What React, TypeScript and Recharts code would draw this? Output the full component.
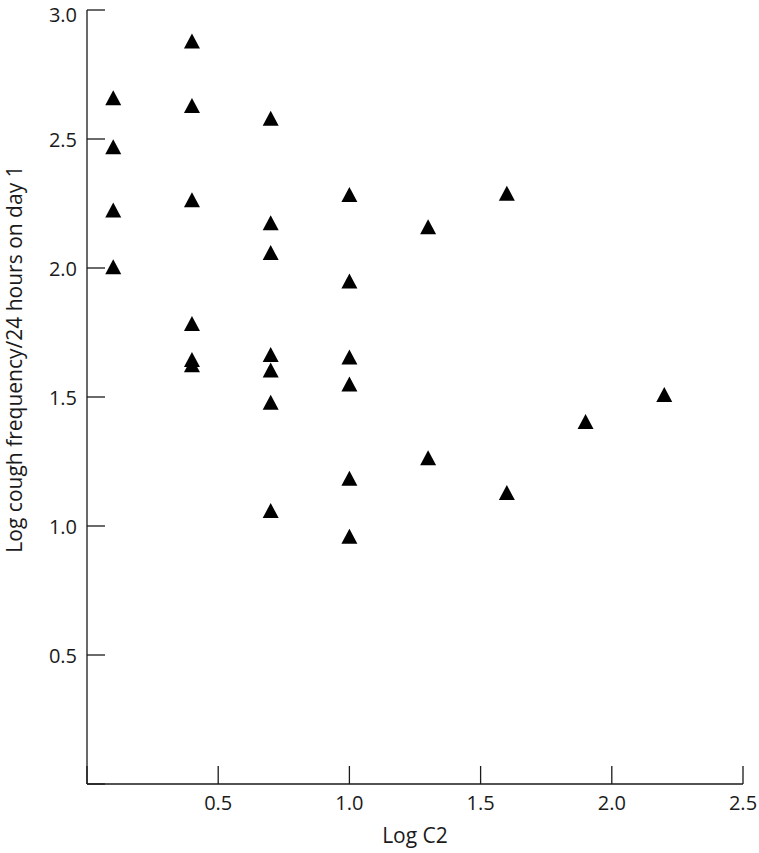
import { ScatterChart, Scatter, XAxis, YAxis } from 'recharts'

// Log C2 (x) vs log cough frequency/24 hours on day 1 (y)
const logC2 = [
  0.1, 0.1, 0.1, 0.1,
  0.4, 0.4, 0.4, 0.4, 0.4, 0.4,
  0.7, 0.7, 0.7, 0.7, 0.7, 0.7, 0.7,
  1.0, 1.0, 1.0, 1.0, 1.0, 1.0,
  1.3, 1.3,
  1.6, 1.6,
  1.9,
  2.2,
]
const logCough = [
  2.66, 2.47, 2.225, 2.005,
  2.88, 2.63, 2.265, 1.785, 1.645, 1.625,
  2.58, 2.175, 2.06, 1.665, 1.605, 1.48, 1.06,
  2.285, 1.95, 1.655, 1.55, 1.185, 0.96,
  2.16, 1.265,
  2.29, 1.13,
  1.405,
  1.51,
]
const xTicks = [0, 0.5, 1.0, 1.5, 2.0, 2.5]
const yTicks = [0, 0.5, 1.0, 1.5, 2.0, 2.5, 3.0]

const points = logC2.map((x, i) => ({ x, y: logCough[i] }))

const FONT = '"Open Sans", "DejaVu Sans", sans-serif'
const INK = '#1a1a1a'
const TICK_LEN = 18

function Triangle(props: any) {
  const { cx, cy } = props
  return (
    <polygon
      points={`${cx},${cy - 7.5} ${cx + 8},${cy + 7.5} ${cx - 8},${cy + 7.5}`}
      fill="#000"
    />
  )
}

function XTick(props: any) {
  const { x, y, payload } = props
  const axisY = y - 6
  return (
    <g>
      <line x1={x} y1={axisY} x2={x} y2={axisY - TICK_LEN} stroke={INK} strokeWidth={1.3} />
      {payload.value !== 0 && (
        <text x={x} y={axisY + 26} textAnchor="middle" fontFamily={FONT} fontSize={20} fill={INK}>
          {payload.value.toFixed(1)}
        </text>
      )}
    </g>
  )
}

function YTick(props: any) {
  const { x, y, payload } = props
  const axisX = x + 6
  // keep the topmost label inside the picture
  const baseline = Math.max(y + 7.5, 22)
  return (
    <g>
      <line x1={axisX} y1={y} x2={axisX + TICK_LEN} y2={y} stroke={INK} strokeWidth={1.3} />
      {payload.value !== 0 && (
        <text x={axisX - 10} y={baseline} textAnchor="end" fontFamily={FONT} fontSize={20} fill={INK}>
          {payload.value.toFixed(1)}
        </text>
      )}
    </g>
  )
}

export default function App() {
  return (
    <div style={{ position: 'absolute', left: 0, top: 0, width: 759, height: 853, background: '#fff' }}>
      <ScatterChart width={759} height={853} margin={{ top: 10, right: 16, bottom: 0, left: 0 }}>
        <XAxis
          type="number"
          dataKey="x"
          domain={[0, 2.5]}
          ticks={xTicks}
          interval={0}
          tickSize={0}
          tickMargin={6}
          tick={<XTick />}
          axisLine={{ stroke: INK, strokeWidth: 1.3 }}
          height={69}
          label={{
            value: 'Log C2',
            position: 'insideBottom',
            offset: 10,
            fontFamily: FONT,
            fontSize: 21,
            fill: INK,
          }}
        />
        <YAxis
          type="number"
          dataKey="y"
          domain={[0, 3]}
          ticks={yTicks}
          interval={0}
          tickSize={0}
          tickMargin={6}
          tick={<YTick />}
          axisLine={{ stroke: INK, strokeWidth: 1.3 }}
          width={87}
          label={() => (
            <text
              x={22}
              y={359}
              transform="rotate(-90 22 359)"
              textAnchor="middle"
              fontFamily={FONT}
              fontSize={21}
              fill={INK}
            >
              Log cough frequency/24 hours on day 1
            </text>
          )}
        />
        <Scatter data={points} shape={<Triangle />} isAnimationActive={false} />
      </ScatterChart>
    </div>
  )
}
